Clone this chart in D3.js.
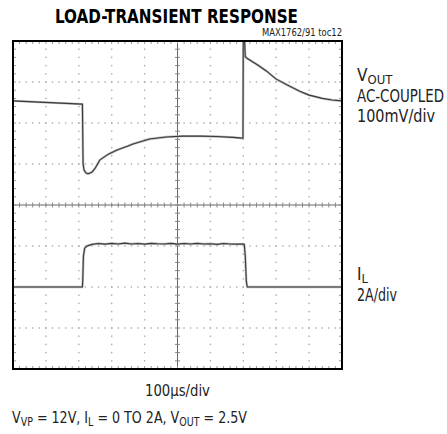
<!DOCTYPE html>
<html>
<head>
<meta charset="utf-8">
<script src="https://d3js.org/d3.v7.min.js"></script>
<style>
  body { margin: 0; background: white; }
  svg { display: block; background: white; }
  .lbl { font-family: 'Liberation Sans Narrow', 'DejaVu Sans Condensed', 'Liberation Sans', sans-serif; fill: #222; }
</style>
</head>
<body>
<svg id="chart" width="447" height="434"></svg>
<script>
// time in us (100us/div, 10 div)
var timeDomain = [0, 1000];
// VOUT, AC-coupled, mV (100mV/div)
var voutT = [0, 210, 211, 213, 216, 222, 228, 240, 250, 264, 290, 316, 350, 365, 415, 466, 516, 567, 618, 669, 695, 699, 700, 703, 706, 711, 745, 770, 800, 840, 870, 900, 940, 970, 1000];
var voutMv = [4, -4, -4, -150, -165, -172, -174, -170, -160, -140, -126, -116, -106, -101, -89, -84, -82, -82, -83, -85, -87, -87, 170, 170, 112, 108, 91, 77, 57, 40, 28, 18, 10, 6, 4];
// IL, A (2A/div)
var ilT = [0, 211, 212, 214, 218, 225, 240, 260, 280, 300, 320, 340, 360, 380, 400, 420, 440, 460, 480, 500, 520, 540, 560, 580, 600, 620, 640, 660, 680, 700, 703, 706, 709, 712, 1000];
var ilA = [0, 0, 0.3, 1.5, 1.9, 2.0, 2.08, 2.12, 2.09, 2.13, 2.1, 2.14, 2.1, 2.12, 2.09, 2.13, 2.11, 2.1, 2.13, 2.09, 2.12, 2.1, 2.13, 2.1, 2.11, 2.08, 2.12, 2.1, 2.09, 2.1, 2.08, 1.5, 0.3, 0, 0];
// grid divisions
var xDivs = 10, yDivs = 8, minorPerDiv = 5;

var svg = d3.select("#chart");
var pLeft = 13, pRight = 342, pTop = 41, pBottom = 369;

var x = d3.scaleLinear().domain(timeDomain).range([pLeft, pRight]);
var yDiv = d3.scaleLinear().domain([-yDivs / 2, yDivs / 2]).range([pBottom, pTop]);
// channel offsets: VOUT ref at +2.5 div, IL zero at -2 div
var yV = d3.scaleLinear().domain([-650, 150]).range([pBottom, pTop]);
var yI = d3.scaleLinear().domain([-4, 12]).range([pBottom, pTop]);
var xDiv = d3.scaleLinear().domain([0, xDivs]).range([pLeft, pRight]);

var grid = svg.append("g");

// dotted grid lines
for (var i = 1; i < xDivs; i++) {
  if (i == xDivs / 2) continue;
  for (var k = 1; k < yDivs * minorPerDiv; k++) {
    grid.append("rect").attr("x", xDiv(i) - 0.7).attr("y", yDiv(-4 + k / minorPerDiv) - 0.7)
      .attr("width", 1.4).attr("height", 1.4).attr("fill", "#aaa");
  }
}
for (var j = 1; j < yDivs; j++) {
  if (j == yDivs / 2) continue;
  for (var k = 1; k < xDivs * minorPerDiv; k++) {
    grid.append("rect").attr("x", xDiv(k / minorPerDiv) - 0.7).attr("y", yDiv(-4 + j) - 0.7)
      .attr("width", 1.4).attr("height", 1.4).attr("fill", "#aaa");
  }
}

// center crosshair with minor ticks
var cx = xDiv(xDivs / 2), cy = yDiv(0);
grid.append("line").attr("x1", pLeft).attr("x2", pRight).attr("y1", cy).attr("y2", cy)
  .attr("stroke", "#666").attr("stroke-width", 1);
grid.append("line").attr("x1", cx).attr("x2", cx).attr("y1", pTop).attr("y2", pBottom)
  .attr("stroke", "#666").attr("stroke-width", 1);
for (var k = 1; k < xDivs * minorPerDiv; k++) {
  var xx = xDiv(k / minorPerDiv);
  grid.append("line").attr("x1", xx).attr("x2", xx).attr("y1", cy - 2.5).attr("y2", cy + 2.5)
    .attr("stroke", "#888").attr("stroke-width", 1);
  grid.append("line").attr("x1", xx).attr("x2", xx).attr("y1", pBottom - 3).attr("y2", pBottom)
    .attr("stroke", "#999").attr("stroke-width", 1);
  grid.append("line").attr("x1", xx).attr("x2", xx).attr("y1", pTop).attr("y2", pTop + 3)
    .attr("stroke", "#999").attr("stroke-width", 1);
}
for (var k = 1; k < yDivs * minorPerDiv; k++) {
  var yy = yDiv(-4 + k / minorPerDiv);
  grid.append("line").attr("x1", cx - 2.5).attr("x2", cx + 2.5).attr("y1", yy).attr("y2", yy)
    .attr("stroke", "#888").attr("stroke-width", 1);
  grid.append("line").attr("x1", pLeft).attr("x2", pLeft + 3).attr("y1", yy).attr("y2", yy)
    .attr("stroke", "#999").attr("stroke-width", 1);
  grid.append("line").attr("x1", pRight - 3).attr("x2", pRight).attr("y1", yy).attr("y2", yy)
    .attr("stroke", "#999").attr("stroke-width", 1);
}

// traces
svg.append("clipPath").attr("id", "clip").append("rect")
  .attr("x", pLeft).attr("y", pTop).attr("width", pRight - pLeft).attr("height", pBottom - pTop);

var traces = svg.append("g").attr("clip-path", "url(#clip)");
var voutLine = d3.line().x(function (d, i) { return x(voutT[i]); }).y(function (d) { return yV(d); });
var ilLine = d3.line().x(function (d, i) { return x(ilT[i]); }).y(function (d) { return yI(d); });

[[voutMv, voutLine], [ilA, ilLine]].forEach(function (p) {
  traces.append("path").attr("d", p[1](p[0])).attr("fill", "none")
    .attr("stroke", "#bbb").attr("stroke-width", 2.4).attr("stroke-linejoin", "round");
  traces.append("path").attr("d", p[1](p[0])).attr("fill", "none")
    .attr("stroke", "#3a3a3a").attr("stroke-width", 1.1).attr("stroke-linejoin", "round");
});

// frame
svg.append("rect").attr("x", pLeft).attr("y", pTop).attr("width", pRight - pLeft).attr("height", pBottom - pTop)
  .attr("fill", "none").attr("stroke", "#000").attr("stroke-width", 2);

// squeeze a text to a given width with a transform (keeps its box honest)
function fitText(sel, tx, ty, w) {
  var len = sel.node().getComputedTextLength();
  sel.attr("x", 0).attr("y", 0)
    .attr("transform", "translate(" + tx + "," + ty + ") scale(" + (w / len) + ",1)");
}

// texts
svg.append("text").attr("x", 176.5).attr("y", 22.5).attr("text-anchor", "middle")
  .attr("font-family", "'DejaVu Sans Condensed', 'DejaVu Sans', sans-serif").attr("font-weight", "bold")
  .attr("font-size", 20).attr("textLength", 243).attr("lengthAdjust", "spacingAndGlyphs")
  .attr("fill", "#000").text("LOAD-TRANSIENT RESPONSE");

svg.append("text").attr("class", "lbl").attr("x", 342).attr("y", 36).attr("text-anchor", "end")
  .attr("font-size", 10).attr("textLength", 80).attr("lengthAdjust", "spacingAndGlyphs")
  .text("MAX1762/91 toc12");

var vlab = svg.append("text").attr("class", "lbl").attr("x", 357).attr("y", 81).attr("font-size", 17);
vlab.append("tspan").text("V");
vlab.append("tspan").attr("font-size", 13).attr("dy", 3).text("OUT");
fitText(svg.append("text").attr("class", "lbl").attr("font-size", 17).text("AC-COUPLED"), 357, 102, 87);
fitText(svg.append("text").attr("class", "lbl").attr("font-size", 17).text("100mV/div"), 357, 122, 78);

var ilab = svg.append("text").attr("class", "lbl").attr("x", 357).attr("y", 280).attr("font-size", 17);
ilab.append("tspan").text("I");
ilab.append("tspan").attr("font-size", 13).attr("dy", 3).text("L");
fitText(svg.append("text").attr("class", "lbl").attr("font-size", 17).text("2A/div"), 357, 301, 40);

fitText(svg.append("text").attr("class", "lbl").attr("font-size", 16).text("100µs/div"), 145, 396, 65);

// conditions line, squeezed horizontally to the reference width
var cond = svg.append("text").attr("class", "lbl").attr("x", 0).attr("y", 0).attr("font-size", 16)
  .attr("transform", "translate(12,423) scale(0.88,1)");
cond.append("tspan").text("V");
cond.append("tspan").attr("font-size", 12).attr("dy", 3).text("VP");
cond.append("tspan").attr("dy", -3).text(" = 12V, I");
cond.append("tspan").attr("font-size", 12).attr("dy", 3).text("L");
cond.append("tspan").attr("dy", -3).text(" = 0 TO 2A, V");
cond.append("tspan").attr("font-size", 12).attr("dy", 3).text("OUT");
cond.append("tspan").attr("dy", -3).text(" = 2.5V");
</script>
</body>
</html>
